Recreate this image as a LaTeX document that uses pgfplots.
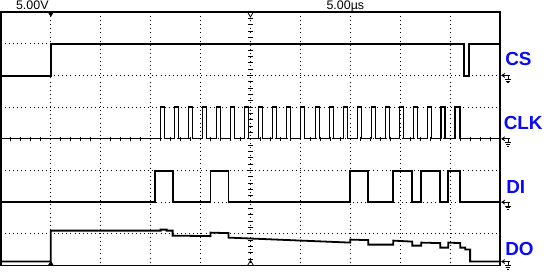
\documentclass[border=0pt]{standalone}
\usepackage{pgfplots}
\pgfplotsset{compat=1.18}
\usepackage{fontspec}
\setmainfont{Liberation Sans}
\usetikzlibrary{arrows.meta}
\definecolor{lblue}{RGB}{10,10,250}
\begin{document}
\begin{tikzpicture}
\begin{axis}[
  scale only axis, width=500bp, height=254bp,
  xmin=0, xmax=500, ymin=12, ymax=266, y dir=reverse,
  hide axis, clip=false,
]
% bounding box = full screenshot
\path (axis cs:-0.7,0) rectangle (axis cs:552,273);
% dotted grid
\pgfplotsinvokeforeach{50,100,150,200,250,300,350,400,450}{
  \draw[line width=0.9bp, dash pattern=on 0.9bp off 3.2bp] (axis cs:#1,12) -- (axis cs:#1,266);
}
\pgfplotsinvokeforeach{43.75,75.5,107.25,139,170.75,202.5,234.25}{
  \draw[line width=0.9bp, dash pattern=on 0.9bp off 3.2bp] (axis cs:0,#1) -- (axis cs:500,#1);
}
% centre axis minor ticks
\pgfplotsinvokeforeach{18.35,24.7,31.05,37.4,43.75,50.1,56.45,62.8,69.15,75.5,81.85,88.2,94.55,100.9,107.25,113.6,119.95,126.3,132.65,139,145.35,151.7,158.05,164.4,170.75,177.1,183.45,189.8,196.15,202.5,208.85,215.2,221.55,227.9,234.25,240.6,246.95,253.3,259.65}{
  \draw[line width=0.8bp] (axis cs:247.5,#1) -- (axis cs:252.5,#1);
}
\pgfplotsinvokeforeach{10,20,30,40,60,70,80,90,110,120,130,140,160,170,180,190,210,220,230,240,260,270,280,290,310,320,330,340,360,370,380,390,410,420,430,440,460,470,480,490}{
  \draw[line width=0.8bp] (axis cs:#1,137) -- (axis cs:#1,141);
}
% frame
\draw[line width=1.4bp] (axis cs:0,12) rectangle (axis cs:500,266);
% trigger / centre markers
\fill (axis cs:47,12) -- (axis cs:53,12) -- (axis cs:50,17) -- cycle;
\draw[line width=0.8bp] (axis cs:247,12) -- (axis cs:250,17) -- (axis cs:253,12);
\fill (axis cs:47,266) -- (axis cs:53,266) -- (axis cs:50,261) -- cycle;
\draw[line width=0.8bp] (axis cs:247,266) -- (axis cs:250,261) -- (axis cs:253,266);

% CS
\addplot[black, line width=1.8bp] coordinates {
 (0,76) (50,76) (50,44) (464,44) (464,76) (469,76) (469,44) (500,44)};
% CLK
\addplot[black, line width=1.4bp] coordinates {
 (0,139) (160,139) (160,107) (164,107) (164,139)
 (174,139) (174,107) (178,107) (178,139)
 (188,139) (188,107) (192,107) (192,139)
 (202,139) (202,107) (206,107) (206,139)
 (216,139) (216,107) (220,107) (220,139)
 (230,139) (230,107) (234,107) (234,139)
 (244,139) (244,107) (248,107) (248,139)
 (258,139) (258,107) (262,107) (262,139)
 (272,139) (272,107) (276,107) (276,139)
 (286,139) (286,107) (290,107) (290,139)
 (300,139) (300,107) (304,107) (304,139)
 (315,139) (315,107) (319,107) (319,139)
 (329,139) (329,107) (333,107) (333,139)
 (343,139) (343,107) (347,107) (347,139)
 (357,139) (357,107) (361,107) (361,139)
 (371,139) (371,107) (375,107) (375,139)
 (385,139) (385,107) (389,107) (389,139)
 (399,139) (399,107) (403,107) (403,139)
 (413,139) (413,107) (417,107) (417,139)
 (427,139) (427,107) (431,107) (431,139)
 (441,139) (441,107) (445,107) (445,139)
 (455,139) (455,107) (460,107) (460,139)
 (500,139)};
% DI
\addplot[black, line width=1.8bp] coordinates {
 (0,202.5) (154,202.5) (154,171) (172,171) (172,202.5)
 (210,202.5) (210,171) (228,171) (228,202.5)
 (350,202.5) (350,171) (368,171) (368,202.5)
 (393,202.5) (393,171) (412,171) (412,202.5)
 (421,202.5) (421,171) (440,171) (440,202.5)
 (448,202.5) (448,171) (460,171) (460,202.5)
 (500,202.5)};
% DO
\addplot[black, line width=1.8bp] coordinates {
 (0,262) (50,262) (50,231) (160,231) (160,230) (166,230) (166,231) (172,231)
 (172,236) (210,236.5) (210,233) (228,233.5) (228,238) (350,243) (350,240)
 (368,240.5) (368,245) (393,245) (393,241) (412,242) (412,246) (421,246)
 (421,243) (440,243.5) (440,248) (448,248) (448,243) (460,243.5) (460,248)
 (465,248) (465,250) (470,250) (470,262) (500,262)};

% ground markers
\pgfplotsinvokeforeach{75.5,139,202.5,262}{
  \draw[line width=0.8bp,-{Stealth[length=4bp,width=5bp]}] (axis cs:510,#1) -- (axis cs:501,#1);
}
\pgfplotsinvokeforeach{75.5,139,202.5,262}{
  \draw[line width=0.8bp] (axis cs:508,#1) -- ++(0bp,-4bp);
  \draw[line width=0.8bp] (axis cs:508,#1) ++(-3bp,-4bp) -- ++(6bp,0bp);
  \draw[line width=0.8bp] (axis cs:508,#1) ++(-2bp,-5.7bp) -- ++(4bp,0bp);
  \draw[line width=0.8bp] (axis cs:508,#1) ++(-1bp,-7.4bp) -- ++(2bp,0bp);
}
% labels
\node[anchor=west, inner sep=0, text=lblue, font=\fontsize{19}{20}\selectfont\bfseries] at (axis cs:505,59.5) {CS};
\node[anchor=west, inner sep=0, text=lblue, font=\fontsize{19}{20}\selectfont\bfseries] at (axis cs:503.5,123.5) {CLK};
\node[anchor=west, inner sep=0, text=lblue, font=\fontsize{19}{20}\selectfont\bfseries] at (axis cs:506,187) {DI};
\node[anchor=west, inner sep=0, text=lblue, font=\fontsize{19}{20}\selectfont\bfseries] at (axis cs:505,249) {DO};
\node[anchor=base west, inner sep=0, font=\fontsize{12.5}{13}\selectfont] at (axis cs:15,10) {5.00V};
\node[anchor=base west, inner sep=0, font=\fontsize{12.5}{13}\selectfont] at (axis cs:326,10) {5.00µs};
\end{axis}
\end{tikzpicture}
\end{document}
